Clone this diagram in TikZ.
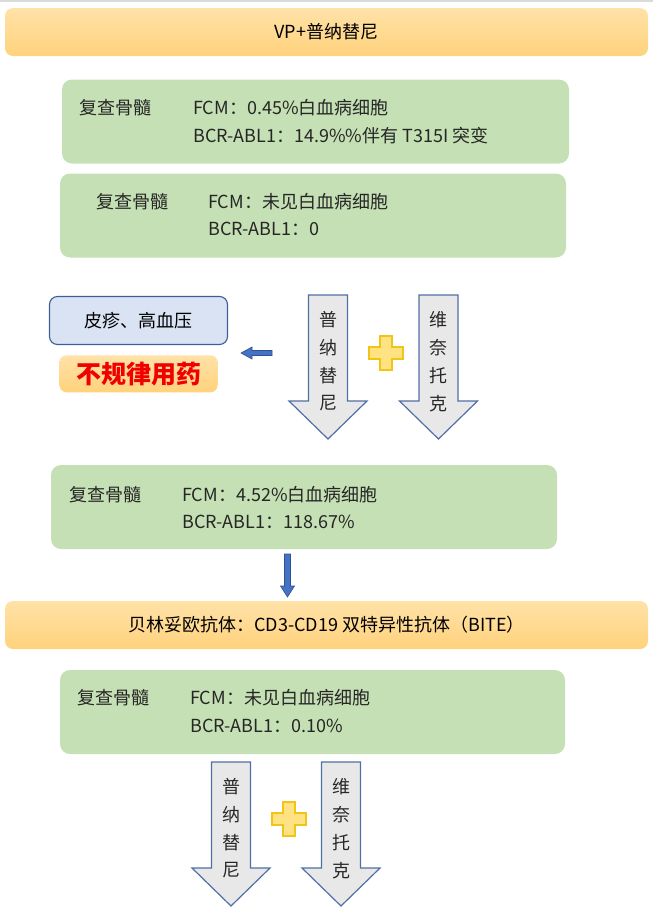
\documentclass[tikz,border=0pt]{standalone}
\usepackage{fontspec}
\setmainfont{Noto Sans CJK SC}
\usetikzlibrary{arrows.meta,positioning}
\definecolor{barorange}{HTML}{FFD27C}
\definecolor{bartop}{HTML}{FFE2A8}
\definecolor{checkgreen}{HTML}{C5E0B4}
\definecolor{notebg}{HTML}{DAE3F3}
\definecolor{noteline}{HTML}{3E5E9A}
\definecolor{drugfill}{HTML}{E8E8E8}
\definecolor{drugline}{HTML}{4F6FA6}
\definecolor{pointer}{HTML}{4472C4}
\definecolor{pointerline}{HTML}{2F528F}
\definecolor{plusfill}{HTML}{FFE383}
\definecolor{plusline}{HTML}{F2C417}
\definecolor{alertred}{HTML}{F00000}
\definecolor{topline}{HTML}{DADADA}
% Hollow down arrow with its drug name stacked inside, one character a line.
\newcommand{\DrugArrow}[4]{%
  \draw[drugarrow] (#1-19.5,#2)--(#1+19.5,#2)--(#1+19.5,#2+106)
    --(#1+39,#2+106)--(#1,#2+144)--(#1-39,#2+106)--(#1-19.5,#2+106)--cycle;
  \foreach \ch [count=\k] in {#4}
    \node[drugtext] (#3-\k) at (#1,{#2+25+27.8*(\k-1)}) {\ch};
}
\newcommand{\PlusSign}[2]{%
  \draw[plussign] (#1-6,#2-17)--(#1+6,#2-17)--(#1+6,#2-6)--(#1+17,#2-6)
    --(#1+17,#2+6)--(#1+6,#2+6)--(#1+6,#2+17)--(#1-6,#2+17)--(#1-6,#2+6)
    --(#1-17,#2+6)--(#1-17,#2-6)--(#1-6,#2-6)--cycle;
}

\begin{document}
\begin{tikzpicture}[x=1pt,y=-1pt,font=\fontsize{18}{21}\selectfont,
 regimen/.style={rounded corners=8pt,top color=bartop,bottom color=barorange,
   minimum width=643pt,minimum height=48pt,inner sep=0pt},
 checkbox/.style={rounded corners=10pt,fill=checkgreen,minimum height=84pt,
   inner sep=0pt},
 entry/.style={anchor=west,inner sep=0pt,text=black!85},
 drugarrow/.style={fill=drugfill,draw=drugline,line width=1.2pt,line join=miter},
 drugtext/.style={inner sep=0pt,text=black!85},
 plussign/.style={fill=plusfill,draw=plusline,line width=1.3pt},
 pointerarrow/.style={fill=pointer,draw=pointerline,line width=0.6pt}]
\useasboundingbox (0,0) rectangle (653,911);
\draw[topline,line width=2.5pt] (0,1) -- (653,1);

% First regimen and the two marrow checks that follow it
\node[regimen] (vp) at (326.5,32) {VP+普纳替尼};
\node[checkbox,minimum width=507pt] (chk1) at (315.5,121.5) {};
\node[entry] (chk1-t) at (79,108) {复查骨髓};
\node[entry] (chk1-a) at (193,108) {FCM：0.45\%白血病细胞};
\node[entry] (chk1-b) at (193,136) {BCR-ABL1：14.9\%\%伴有 T315I 突变};
\node[checkbox,minimum width=506pt] (chk2) at (313,215.5) {};
\node[entry] (chk2-t) at (96,202) {复查骨髓};
\node[entry] (chk2-a) at (208,202) {FCM：未见白血病细胞};
\node[entry] (chk2-b) at (208,229) {BCR-ABL1：0};

% Side effects and the irregular dosing they caused
\node[rounded corners=8pt,fill=notebg,draw=noteline,line width=1.1pt,
  minimum width=178pt,minimum height=48pt,inner sep=0pt] (rash) at (138.5,320.5)
  {皮疹、高血压};
\node[rounded corners=7pt,top color=bartop,bottom color=barorange,
  minimum width=158pt,minimum height=37pt,inner sep=0pt,below=10pt of rash]
  (skip) {\fontsize{25}{27}\selectfont\bfseries\color{alertred}不规律用药};
\coordinate (ptr) at (272,353);
\draw[pointerarrow] (ptr) ++(0,-2.5) -- ++(-20,0) -- ++(0,-3.5) -- ++(-11,6)
  -- ++(11,6) -- ++(0,-3.5) -- ++(20,0) -- cycle;

\DrugArrow{328}{295}{pona}{普,纳,替,尼}
\PlusSign{386}{353}
\DrugArrow{438.5}{295}{ven}{维,奈,托,克}

\node[checkbox,minimum width=506pt] (chk3) at (304,507) {};
\node[entry] (chk3-t) at (69,495) {复查骨髓};
\node[entry] (chk3-a) at (182,495) {FCM：4.52\%白血病细胞};
\node[entry] (chk3-b) at (182,522) {BCR-ABL1：118.67\%};

% Switch to blinatumomab
\node[regimen] (bite) at (326.5,625) {贝林妥欧抗体：CD3-CD19 双特异性抗体（BITE）};
\coordinate (drop) at (287.5,554);
\draw[pointerarrow] (drop) ++(-3,0) -- ++(6,0) -- ++(0,32) -- ++(4,0)
  -- ++(-7,11) -- ++(-7,-11) -- ++(4,0) -- cycle;

\node[checkbox,minimum width=505pt] (chk4) at (312.5,712) {};
\node[entry] (chk4-t) at (77.5,698) {复查骨髓};
\node[entry] (chk4-a) at (190,698) {FCM：未见白血病细胞};
\node[entry] (chk4-b) at (190,726) {BCR-ABL1：0.10\%};

\DrugArrow{231}{762}{pona2}{普,纳,替,尼}
\PlusSign{289}{819}
\DrugArrow{341}{762}{ven2}{维,奈,托,克}
\end{tikzpicture}
\end{document}
